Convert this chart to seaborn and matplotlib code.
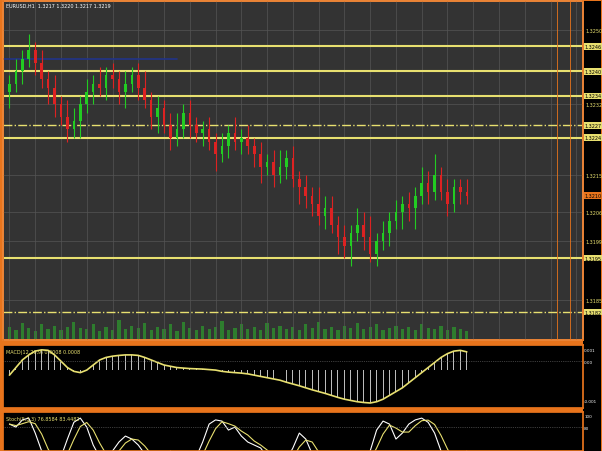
import matplotlib
matplotlib.use("Agg")
import matplotlib.pyplot as plt
import seaborn as sns
import numpy as np
import pandas as pd

closes = [1.3237,1.3240,1.3243,1.3245,1.3242,1.3238,1.3236,1.3232,1.3229,1.3226,
          1.3228,1.3232,1.3235,1.3237,1.3236,1.3239,1.3238,1.3235,1.3237,1.3239,
          1.3236,1.3233,1.3229,1.3231,1.3227,1.3224,1.3226,1.3230,1.3227,1.3225,
          1.3226,1.3223,1.3220,1.3222,1.3225,1.3223,1.3224,1.3222,1.3220,1.3217,
          1.3218,1.3215,1.3217,1.3219,1.3214,1.3212,1.3210,1.3208,1.3205,1.3207,
          1.3203,1.3200,1.3198,1.3201,1.3203,1.3200,1.3196,1.3199,1.3201,1.3204,
          1.3206,1.3208,1.3207,1.3210,1.3213,1.3211,1.3215,1.3211,1.3208,1.3212,1.3211,1.3210]
first_open = 1.3235
wicks = [2,3,2,4,2,3,2,3,2,4, 3,2,3,2,4,2,3,2,3,2, 3,4,2,3,2,3,4,2,3,2,
         2,3,2,3,2,4,2,3,2,3, 2,3,4,2,3,2,3,2,4,3, 3,2,3,2,4,3,5,2,3,2,
         3,2,3,2,4,3,5,2,3,2,2,3]
volumes = [12,9,15,11,8,14,10,13,9,12, 16,11,10,14,8,12,9,18,10,13, 11,15,9,12,10,14,8,16,11,9,
           13,10,12,17,9,11,14,10,12,9, 15,11,13,10,12,9,14,11,16,10, 12,9,13,11,15,10,12,14,9,11,
           13,10,12,9,14,11,10,13,9,12,10,8]
macd = [-0.2,0.1,0.4,0.6,0.75,0.8,0.78,0.6,0.35,0.1,
        -0.05,-0.1,0.0,0.2,0.4,0.5,0.55,0.58,0.6,0.6,
        0.58,0.5,0.4,0.3,0.2,0.15,0.1,0.08,0.06,0.05,
        0.04,0.02,0.0,-0.05,-0.08,-0.1,-0.12,-0.15,-0.2,-0.25,
        -0.3,-0.35,-0.4,-0.48,-0.55,-0.62,-0.7,-0.78,-0.85,-0.92,
        -1.0,-1.08,-1.15,-1.2,-1.25,-1.28,-1.3,-1.25,-1.15,-1.0,
        -0.85,-0.7,-0.5,-0.3,-0.1,0.1,0.3,0.5,0.65,0.75,0.78,0.72]
stoch = [85,80,92,95,70,40,20,15,30,60, 88,95,80,50,30,25,40,55,65,60,
         50,35,20,15,25,40,30,20,15,30, 55,85,92,90,75,80,65,55,50,45,
         30,20,15,25,45,70,60,35,20,15, 10,20,30,25,15,20,40,75,90,85,
         60,70,85,92,95,88,70,40,20,15,25,40]
hlines = [1.3246, 1.3240, 1.3234, 1.3224, 1.3195]
dashlines = [1.3227, 1.3182]
hl_labels = ["1.3246", "1.3240", "1.3234", "1.3224", "1.3195", "1.3227", "1.3182"]
plain_labels = ["1.3250", "1.3232", "1.3215", "1.3206", "1.3199", "1.3185"]
current_price = 1.3210

sns.set_theme(style="dark")
BG = "#333333"; ORANGE = "#e8741c"; YEL = "#e8e070"
plt.rcParams["patch.edgecolor"] = "none"
fig = plt.figure(figsize=(6.02, 4.52), dpi=100, facecolor=ORANGE)
strip = fig.add_axes([0.968, 0.0, 0.03, 0.995]); strip.set_facecolor("black")
strip.set_xticks([]); strip.set_yticks([])
for s in strip.spines.values(): s.set_visible(False)
ax = fig.add_axes([0.005, 0.245, 0.963, 0.75])
axm = fig.add_axes([0.005, 0.095, 0.963, 0.14])
axs = fig.add_axes([0.005, 0.0, 0.963, 0.086])
for a in (ax, axm, axs):
    a.set_facecolor(BG if a is ax else "black")
    for s in a.spines.values():
        s.set_color(ORANGE)

n = len(closes)
x = np.arange(n)
opens = [first_open] + closes[:-1]
axv = ax.twinx()
axv.bar(x, volumes, width=0.5, color="#2e7d2e", linewidth=0)
axv.set_ylim(0, 300); axv.set_yticks([])
for i in range(n):
    o, c = opens[i], closes[i]
    col = "#22cc22" if c >= o else "#dd2222"
    hi = max(o, c) + wicks[i] * 0.0001
    lo = min(o, c) - wicks[(i + 3) % n] * 0.0001
    ax.vlines(x[i], lo, hi, color=col, lw=0.8, zorder=3)
    ax.bar(x[i], max(abs(c - o), 0.00005), bottom=min(o, c), width=0.4, color=col, linewidth=0, zorder=3)
ax.set_zorder(axv.get_zorder() + 1); ax.patch.set_visible(False)
axv.set_facecolor(BG); axv.patch.set_visible(True)
ax.set_ylim(1.31752, 1.32568)
ax.set_xlim(-1, 89)
for h in hlines:
    ax.axhline(h, color=YEL, lw=1.5)
for h in dashlines:
    ax.axhline(h, color=YEL, lw=1, ls="-.")
ax.axhline(1.3243, color="#223388", lw=1.2, xmax=0.3)
ax.axvline(85, color=ORANGE, lw=0.6)
ax.axvline(87, color=ORANGE, lw=0.6)
ax.grid(True, color="#555555", lw=0.5)
ax.set_xticks(np.arange(0, 89, 4)); ax.set_xticklabels([])
ax.yaxis.tick_right()
ax.set_yticks([float(p) for p in plain_labels])
ax.set_yticklabels(plain_labels, fontsize=3.5, color=YEL)
ax.tick_params(length=0, pad=2)
for h, lab in zip(hlines + dashlines, hl_labels):
    ax.text(1.003, h, lab, transform=ax.get_yaxis_transform(), fontsize=3.5, color="black",
            va="center", bbox=dict(boxstyle="square,pad=0.2", fc=YEL, ec="none"))
ax.text(1.003, current_price, "1.3210", transform=ax.get_yaxis_transform(), fontsize=3.5, color="black",
        va="center", bbox=dict(boxstyle="square,pad=0.2", fc=ORANGE, ec="none"))
ax.text(0.005, 0.995, "EURUSD,H1  1.3217 1.3220 1.3217 1.3219", transform=ax.transAxes,
        fontsize=3.5, color="white", va="top")

axm.bar(x, macd, width=0.15, color="#bbbbbb", linewidth=0)
sns.lineplot(x=x, y=macd, ax=axm, color=YEL, lw=1.2)
axm.set_xlim(-1, 89); axm.set_ylim(-1.5, 1.0)
axm.axhline(0.35, color="#777777", lw=0.5, ls=":")
axm.set_xticks([]); axm.yaxis.tick_right()
axm.set_yticks([0.8, 0.35, -1.2]); axm.set_yticklabels(["0.001", "0.00", "-0.001"], fontsize=3, color="white")
axm.tick_params(length=0, pad=1)
axm.text(0.005, 0.93, "MACD(12,26,9) 0.0008 0.0008", transform=axm.transAxes, fontsize=3.5, color=YEL, va="top")

k = pd.Series(stoch)
sns.lineplot(x=x, y=k, ax=axs, color="white", lw=0.8)
sns.lineplot(x=x, y=k.rolling(3, min_periods=1).mean(), ax=axs, color=YEL, lw=0.8)
axs.set_xlim(-1, 89); axs.set_ylim(40, 105)
axs.axhline(80, color="#777777", lw=0.5, ls=":")
axs.set_xticks([]); axs.yaxis.tick_right()
axs.set_yticks([100, 80]); axs.set_yticklabels(["100", "80"], fontsize=3, color="white")
axs.tick_params(length=0, pad=1)
axs.text(0.005, 0.9, "Stoch(5,3,3) 76.8584 83.4482", transform=axs.transAxes, fontsize=3.5, color=YEL, va="top")
for a in (axm, axs):
    a.set_xlabel(""); a.set_ylabel("")
fig.savefig("out.png", dpi=100, facecolor=ORANGE)
